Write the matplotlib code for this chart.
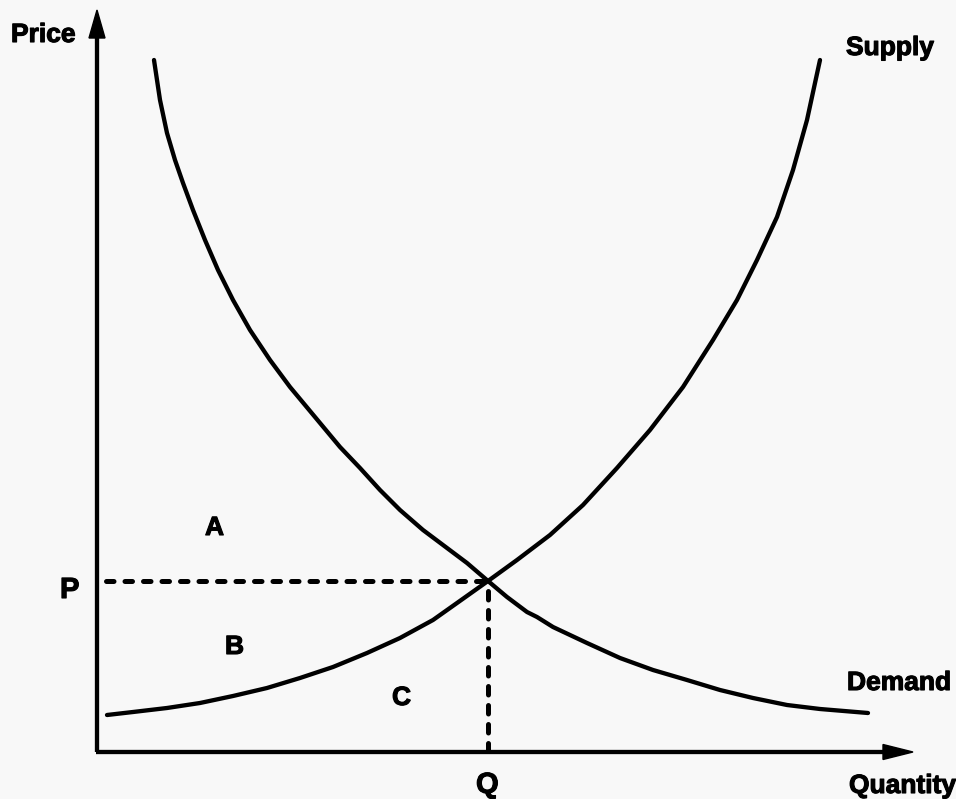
import matplotlib
matplotlib.use("Agg")
import matplotlib.pyplot as plt
from matplotlib.patches import Polygon
import matplotlib.patheffects as pe

# Data (quantity, price) in drawing units; origin at the axes corner
demand_q = [57, 63, 70, 78, 86, 96, 108, 121, 136, 153, 173, 193, 223, 243, 263, 283, 303, 326,
            350, 370, 391, 410, 430, 440, 456, 490, 523, 556, 590, 623, 656, 690, 723, 771]
demand_p = [692, 652, 619, 592, 569, 542, 512, 482, 452, 422, 392, 365, 329, 305, 284, 262, 242, 222,
            204, 189, 171, 155, 140, 135, 125, 109, 94, 82, 72, 62, 54, 47, 43, 39]

supply_q = [10, 36, 70, 103, 136, 170, 203, 236, 270, 303, 336, 360, 391, 420, 453, 486, 520,
            553, 586, 616, 640, 660, 680, 696, 710, 718, 723]
supply_p = [37, 40, 44, 49, 56, 64, 74, 85, 99, 114, 132, 149, 171, 192, 217, 247, 284,
            322, 365, 412, 452, 492, 535, 582, 632, 669, 692]

eq_q, eq_p = 391, 171
q_max, p_max = 816, 742

labels = {"Price": (-86, 710), "Supply": (749, 697), "Demand": (750, 62),
          "Quantity": (752, -41), "P": (-37, 154), "Q": (379, -41),
          "A": (108, 217), "B": (128, 98), "C": (295, 47)}

fig = plt.figure(figsize=(9.56, 7.99), dpi=100)
fig.patch.set_facecolor("#f8f8f8")
ax = fig.add_axes([0, 0, 1, 1])
ax.set_facecolor("#f8f8f8")
ax.set_xlim(-97, 859)
ax.set_ylim(-47, 752)
ax.axis("off")

lw = 3.1
# axes
ax.plot([0, 0], [0, p_max - 28], color="black", lw=lw, solid_capstyle="butt")
ax.plot([-1, q_max - 30], [0, 0], color="black", lw=lw, solid_capstyle="butt")
ax.add_patch(Polygon([[0, p_max], [-8, p_max - 28], [8, p_max - 28]], closed=True, color="black"))
ax.add_patch(Polygon([[q_max, 0], [q_max - 30, 7.5], [q_max - 30, -7.5]], closed=True, color="black"))

# curves
ax.plot(demand_q, demand_p, color="black", lw=lw, solid_capstyle="round", solid_joinstyle="round")
ax.plot(supply_q, supply_p, color="black", lw=lw, solid_capstyle="round", solid_joinstyle="round")

# dashed equilibrium lines
dlw = 3.6
ax.plot([9, eq_q], [eq_p, eq_p], color="black", lw=dlw, dashes=(1.5, 2.2), dash_capstyle="round")
ax.plot([eq_q, eq_q], [eq_p - 10, 2], color="black", lw=dlw, dashes=(1.7, 2.1), dash_capstyle="round")

for txt, (x, y) in labels.items():
    size = 21 if txt in ("P", "Q") else 19
    ax.text(x, y, txt, ha="left", va="baseline", fontsize=size, fontweight="bold",
            family="Liberation Sans", color="black",
            path_effects=[pe.withStroke(linewidth=0.8, foreground="black")])

fig.savefig("out.png", dpi=100, facecolor=fig.get_facecolor())
